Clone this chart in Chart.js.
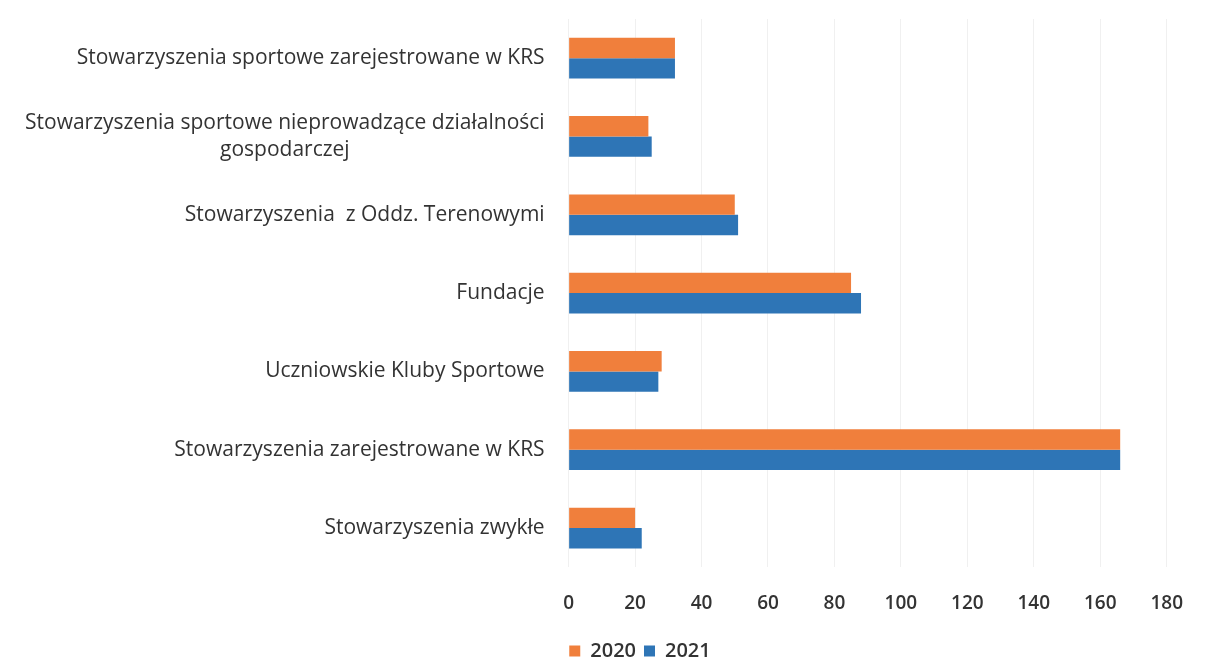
<!DOCTYPE html>
<html>
<head>
<meta charset="utf-8">
<script src="https://cdn.jsdelivr.net/npm/chart.js@4.4.1/dist/chart.umd.min.js"></script>
<style>
    html, body { margin: 0; padding: 0; background: #fff; }
    #wrap { width: 1208px; height: 662px; }
</style>
</head>
<body>
<div id="wrap"><canvas id="chart"></canvas></div>
<script>
// Categories (top to bottom) and values
const categories = [
    'Stowarzyszenia sportowe zarejestrowane w KRS',
    ['Stowarzyszenia sportowe nieprowadzące działalności', 'gospodarczej'],
    'Stowarzyszenia  z Oddz. Terenowymi',
    'Fundacje',
    'Uczniowskie Kluby Sportowe',
    'Stowarzyszenia zarejestrowane w KRS',
    'Stowarzyszenia zwykłe'
];
const values2020 = [32, 24, 50, 85, 28, 166, 20];
const values2021 = [32, 25, 51, 88, 27, 166, 22];
const xTicks = [0, 20, 40, 60, 80, 100, 120, 140, 160, 180];

document.addEventListener('DOMContentLoaded', () => {
    const ctx = document.getElementById('chart').getContext('2d');
    const font = 'Open Sans';
    const labelFont = { family: font, size: 21, lineHeight: 1.3 };
    const textColor = '#333';

    // Excel-style category labels: block right-aligned, lines centred inside the block
    const categoryLabels = {
        id: 'categoryLabels',
        afterDraw(chart) {
            const scale = chart.scales.y;
            const c = chart.ctx;
            const lineH = labelFont.size * labelFont.lineHeight;
            c.save();
            c.font = `${labelFont.size}px "${font}"`;
            c.fillStyle = textColor;
            c.textAlign = 'center';
            c.textBaseline = 'middle';
            const right = scale.right - 24;
            categories.forEach((label, i) => {
                const lines = Array.isArray(label) ? label : [label];
                const blockW = Math.max(...lines.map(l => c.measureText(l).width));
                const cx = right - blockW / 2;
                const y0 = scale.getPixelForTick(i) - (lines.length - 1) * lineH / 2;
                lines.forEach((l, k) => c.fillText(l, cx, y0 + k * lineH));
            });
            c.restore();
        }
    };

    // move the legend to sit where it does in the original
    const legendShift = {
        id: 'legendShift',
        afterUpdate(chart) {
            const lg = chart.legend;
            if (!lg) return;
            lg.left += 53;
            lg.right += 53;
            lg.top -= 7;
            lg.bottom -= 7;
            lg.adjustHitBoxes();
        }
    };

    new Chart(ctx, {
        type: 'bar',
        data: {
            labels: categories,
            datasets: [
                { label: '2020', data: values2020, backgroundColor: '#f07f3c' },
                { label: '2021', data: values2021, backgroundColor: '#2e75b6' }
            ]
        },
        options: {
            indexAxis: 'y',
            responsive: true,
            maintainAspectRatio: false,
            animation: false,
            datasets: { bar: { categoryPercentage: 0.52, barPercentage: 1.0 } },
            layout: { padding: { top: 19, right: 35, bottom: -16, left: 1 } },
            scales: {
                x: {
                    min: 0,
                    max: 180,
                    afterBuildTicks: axis => { axis.ticks = xTicks.map(v => ({ value: v })); },
                    grid: { color: '#f0f0f0', drawTicks: false },
                    border: { display: false },
                    ticks: { color: textColor, padding: 25, font: { family: font, size: 19, weight: '600' } }
                },
                y: {
                    grid: { display: false, drawTicks: false },
                    border: { display: false },
                    afterFit: scale => { scale.paddingTop = 0; scale.paddingBottom = 0; },
                    // real labels are drawn by the categoryLabels plugin, these only reserve space
                    ticks: { color: 'transparent', padding: 24, font: labelFont }
                }
            },
            plugins: {
                legend: {
                    position: 'bottom',
                    labels: {
                        color: textColor,
                        boxWidth: 11,
                        boxHeight: 11,
                        padding: 8,
                        font: { family: font, size: 20, weight: '600' }
                    }
                },
                tooltip: { enabled: false }
            }
        },
        plugins: [categoryLabels, legendShift]
    });
});
</script>
</body>
</html>
